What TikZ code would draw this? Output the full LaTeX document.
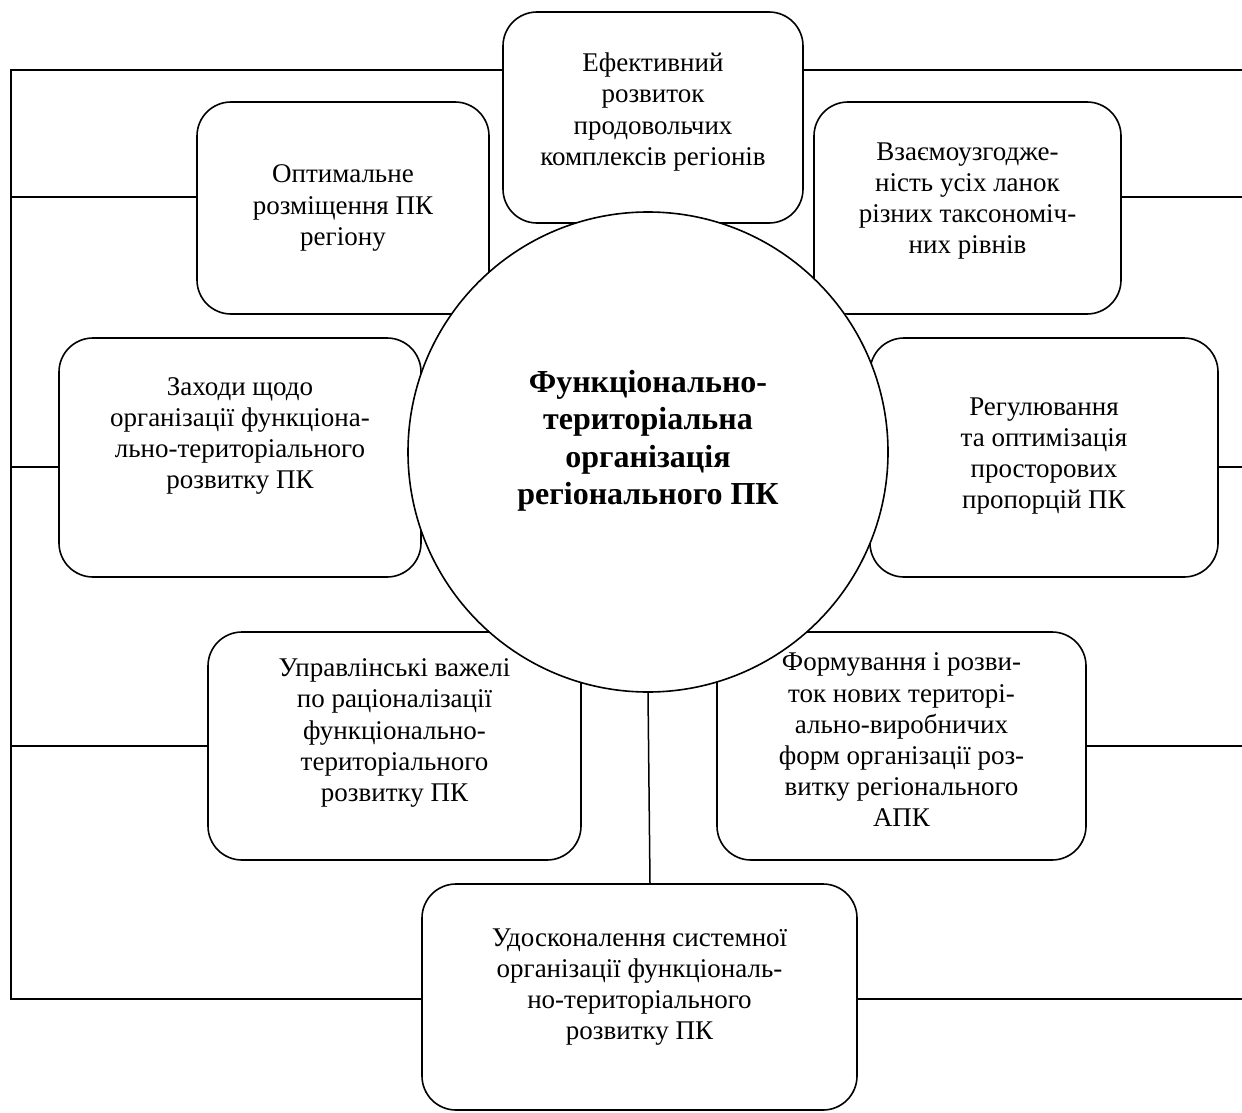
\documentclass[tikz,border=0pt]{standalone}
\usepackage{fontspec}
\setmainfont{Liberation Serif}
\begin{document}
\begin{tikzpicture}[x=0.5pt,y=-0.5pt,
  box/.style={draw, line width=0.8pt, rounded corners=17pt, fill=white, inner sep=0pt},
  txt/.style={align=center, font=\fontsize{13.5}{15.6}\selectfont, inner sep=0pt},
  conn/.style={line width=0.75pt}]
\useasboundingbox (0,0) rectangle (1242,1113);
% boxes
\node[box, minimum width=150pt, minimum height=105.5pt] (ef) at (653,117.5) {};
\node[box, minimum width=146pt, minimum height=106pt] (opt) at (343,208) {};
\node[box, minimum width=153.5pt, minimum height=106pt] (vz) at (967.5,208) {};
\node[box, minimum width=181pt, minimum height=119.5pt] (zah) at (240,457.5) {};
\node[box, minimum width=174pt, minimum height=119.5pt] (reg) at (1044,457.5) {};
\node[box, minimum width=186.5pt, minimum height=114pt] (upr) at (394.5,746) {};
\node[box, minimum width=184.5pt, minimum height=114pt] (form) at (901.5,746) {};
\node[box, minimum width=217.5pt, minimum height=113pt] (udos) at (639.5,997) {};
% central circle
\node[draw, circle, fill=white, line width=0.8pt, inner sep=0pt, minimum size=240pt] (c) at (648,452) {};
\node[align=center, inner sep=0pt, font=\bfseries\fontsize{16}{18.75}\selectfont] (ct) at (648,441)
  {Функціонально-\\територіальна\\організація\\регіонального ПК};
% texts
\node[txt] (ef-t) at (653,112) {Ефективний\\розвиток\\продовольчих\\комплексів регіонів};
\node[txt] (opt-t) at (343,208) {Оптимальне\\розміщення ПК\\регіону};
\node[txt] (vz-t) at (967.5,201) {Взаємоузгодже-\\ність усіх ланок\\різних таксономіч-\\них рівнів};
\node[txt] (zah-t) at (240,436) {Заходи щодо\\організації функціона-\\льно-територіального\\розвитку ПК};
\node[txt] (reg-t) at (1044,456) {Регулювання\\та оптимізація\\просторових\\пропорцій ПК};
\node[txt] (upr-t) at (394.5,733) {Управлінські важелі\\по раціоналізації\\функціонально-\\територіального\\розвитку ПК};
\node[txt] (form-t) at (901.5,740) {Формування і розви-\\ток нових територі-\\ально-виробничих\\форм організації роз-\\витку регіонального\\АПК};
\node[txt] (udos-t) at (639.5,987) {Удосконалення системної\\організації функціональ-\\но-територіального\\розвитку ПК};
% frame coordinates
\coordinate (tl) at (11,70);
\coordinate (tr) at (1242,70);
\coordinate (l1) at (11,197);
\coordinate (l2) at (11,467);
\coordinate (l3) at (11,746);
\coordinate (bl) at (11,999);
\coordinate (r1) at (1242,197);
\coordinate (r2) at (1242,467);
\coordinate (r3) at (1242,746);
\coordinate (r4) at (1242,999);
% connectors
\draw[conn] (tl -| ef.west) -- (tl) -- (bl) -- (bl -| udos.west);
\draw[conn] (ef.east |- tr) -- (tr);
\draw[conn] (l1) -- (l1 -| opt.west);
\draw[conn] (l2) -- (l2 -| zah.west);
\draw[conn] (l3) -- (l3 -| upr.west);
\draw[conn] (vz.east |- r1) -- (r1);
\draw[conn] (reg.east |- r2) -- (r2);
\draw[conn] (form.east |- r3) -- (r3);
\draw[conn] (udos.east |- r4) -- (r4);
\draw[conn] (c.south) -- ([xshift=1pt]c.south |- udos.north);
\end{tikzpicture}
\end{document}
